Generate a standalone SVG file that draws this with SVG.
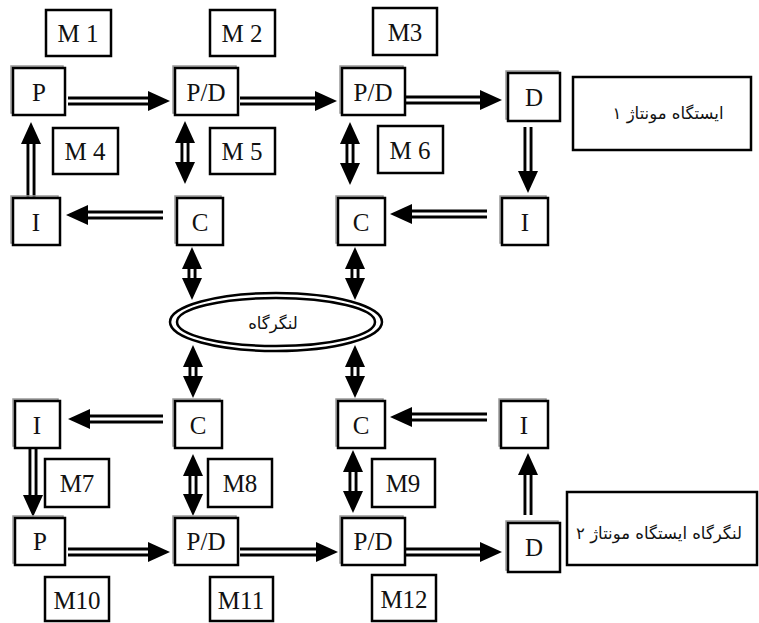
<svg xmlns="http://www.w3.org/2000/svg" width="759" height="623" viewBox="0 0 759 623">
<defs>
<style>
.b{fill:#fff;stroke:#000;stroke-width:2.5}
.s{fill:none;stroke:#999;stroke-width:1.5}
.t{font-family:'Liberation Serif','DejaVu Serif','Times New Roman',serif;font-size:25px;fill:#111;text-anchor:middle;dominant-baseline:central}
.fa{font-family:'DejaVu Sans','Noto Sans',sans-serif;font-size:16.5px;fill:#111;text-anchor:middle;dominant-baseline:central}
.so{fill:none;stroke:#000;stroke-width:9}
.si{fill:none;stroke:#fff;stroke-width:3.2}
.h{fill:#000}
.el{fill:#fff;stroke:#000;stroke-width:2.5}
</style>
</defs>
<rect width="759" height="623" fill="#fff"/>

<g id="connectors">
<path class="so" d="M68 101H150"/><path class="si" d="M68 101H151"/><polygon class="h" points="148,91 170,101 148,111"/>
<path class="so" d="M240 101H317"/><path class="si" d="M240 101H318"/><polygon class="h" points="315,91 337,101 315,111"/>
<path class="so" d="M406 100H482"/><path class="si" d="M406 100H483"/><polygon class="h" points="480,90 502,100 480,110"/>
<path class="so" d="M31 198V142"/><path class="si" d="M31 198V141"/><polygon class="h" points="21,144 31,122 41,144"/>
<path class="so" d="M185 141V164"/><path class="si" d="M185 140V165"/><polygon class="h" points="175,143 185,121 195,143"/><polygon class="h" points="175,162 185,184 195,162"/>
<path class="so" d="M350 142V165"/><path class="si" d="M350 141V166"/><polygon class="h" points="340,144 350,122 360,144"/><polygon class="h" points="340,163 350,185 360,163"/>
<path class="so" d="M528 127V173"/><path class="si" d="M528 127V174"/><polygon class="h" points="518,171 528,193 538,171"/>
<path class="so" d="M163 215H86"/><path class="si" d="M163 215H85"/><polygon class="h" points="88,205 66,215 88,225"/>
<path class="so" d="M487 214H410"/><path class="si" d="M487 214H409"/><polygon class="h" points="412,204 390,214 412,224"/>
<path class="so" d="M192 267V280"/><path class="si" d="M192 266V281"/><polygon class="h" points="182,269 192,247 202,269"/><polygon class="h" points="182,278 192,300 202,278"/>
<path class="so" d="M355 267V280"/><path class="si" d="M355 266V281"/><polygon class="h" points="345,269 355,247 365,269"/><polygon class="h" points="345,278 355,300 365,278"/>
<path class="so" d="M193 365V378"/><path class="si" d="M193 364V379"/><polygon class="h" points="183,367 193,345 203,367"/><polygon class="h" points="183,376 193,398 203,376"/>
<path class="so" d="M355 365V378"/><path class="si" d="M355 364V379"/><polygon class="h" points="345,367 355,345 365,367"/><polygon class="h" points="345,376 355,398 365,376"/>
<path class="so" d="M163 419H88"/><path class="si" d="M163 419H87"/><polygon class="h" points="90,409 68,419 90,429"/>
<path class="so" d="M487 417H410"/><path class="si" d="M487 417H409"/><polygon class="h" points="412,407 390,417 412,427"/>
<path class="so" d="M33 448V497"/><path class="si" d="M33 448V498"/><polygon class="h" points="23,495 33,517 43,495"/>
<path class="so" d="M193 474V496"/><path class="si" d="M193 473V497"/><polygon class="h" points="183,476 193,454 203,476"/><polygon class="h" points="183,494 193,516 203,494"/>
<path class="so" d="M353 470V493"/><path class="si" d="M353 469V494"/><polygon class="h" points="343,472 353,450 363,472"/><polygon class="h" points="343,491 353,513 363,491"/>
<path class="so" d="M528 515V473"/><path class="si" d="M528 515V472"/><polygon class="h" points="518,475 528,453 538,475"/>
<path class="so" d="M68 552H150"/><path class="si" d="M68 552H151"/><polygon class="h" points="148,542 170,552 148,562"/>
<path class="so" d="M240 552H318"/><path class="si" d="M240 552H319"/><polygon class="h" points="316,542 338,552 316,562"/>
<path class="so" d="M406 552H482"/><path class="si" d="M406 552H483"/><polygon class="h" points="480,542 502,552 480,562"/>
</g>

<g id="anchorage">
<ellipse class="el" cx="276" cy="322" rx="106" ry="29"/>
<ellipse class="el" cx="276" cy="322" rx="99" ry="24"/>
<text class="fa" x="273" y="323">لنگرگاه</text>
</g>

<g id="P1"><rect class="s" x="11" y="66" width="52" height="47"/><rect class="b" x="13" y="68" width="52" height="47"/><text class="t" x="39" y="92">P</text></g>
<g id="PD1"><rect class="s" x="173" y="66" width="63" height="47"/><rect class="b" x="175" y="68" width="63" height="47"/><text class="t" x="206" y="92">P/D</text></g>
<g id="PD2"><rect class="s" x="340" y="66" width="63" height="47"/><rect class="b" x="342" y="68" width="63" height="47"/><text class="t" x="373" y="92">P/D</text></g>
<g id="D1"><rect class="s" x="506" y="71" width="52" height="48"/><rect class="b" x="508" y="73" width="52" height="48"/><text class="t" x="534" y="97">D</text></g>

<g id="M1"><rect class="b" x="46" y="10" width="65" height="46"/><text class="t" x="78" y="33">M 1</text></g>
<g id="M2"><rect class="b" x="210" y="10" width="65" height="46"/><text class="t" x="242" y="33">M 2</text></g>
<g id="M3"><rect class="b" x="373" y="8" width="64" height="47"/><text class="t" x="405" y="32">M3</text></g>
<g id="M4"><rect class="b" x="53" y="128" width="65" height="46"/><text class="t" x="85" y="151">M 4</text></g>
<g id="M5"><rect class="b" x="210" y="128" width="65" height="46"/><text class="t" x="242" y="151">M 5</text></g>
<g id="M6"><rect class="b" x="378" y="126" width="65" height="47"/><text class="t" x="410" y="150">M 6</text></g>

<g id="station1"><rect class="b" x="573" y="77" width="178" height="73"/><text class="fa" x="668" y="113">ایستگاه مونتاژ ۱</text></g>

<g id="I1"><rect class="s" x="11" y="196" width="47" height="47"/><rect class="b" x="13" y="198" width="47" height="47"/><text class="t" x="36" y="222">I</text></g>
<g id="C1"><rect class="s" x="175" y="196" width="46" height="47"/><rect class="b" x="177" y="198" width="46" height="47"/><text class="t" x="200" y="222">C</text></g>
<g id="C2"><rect class="s" x="336" y="196" width="47" height="47"/><rect class="b" x="338" y="198" width="47" height="47"/><text class="t" x="361" y="222">C</text></g>
<g id="I2"><rect class="s" x="500" y="196" width="46" height="47"/><rect class="b" x="502" y="198" width="46" height="47"/><text class="t" x="525" y="222">I</text></g>

<g id="I3"><rect class="s" x="13" y="399" width="45" height="47"/><rect class="b" x="15" y="401" width="45" height="47"/><text class="t" x="37" y="425">I</text></g>
<g id="C3"><rect class="s" x="173" y="399" width="47" height="47"/><rect class="b" x="175" y="401" width="47" height="47"/><text class="t" x="198" y="425">C</text></g>
<g id="C4"><rect class="s" x="336" y="399" width="47" height="47"/><rect class="b" x="338" y="401" width="47" height="47"/><text class="t" x="361" y="425">C</text></g>
<g id="I4"><rect class="s" x="499" y="399" width="47" height="47"/><rect class="b" x="501" y="401" width="47" height="47"/><text class="t" x="524" y="425">I</text></g>

<g id="M7"><rect class="b" x="45" y="459" width="64" height="48"/><text class="t" x="77" y="483">M7</text></g>
<g id="M8"><rect class="b" x="208" y="459" width="64" height="48"/><text class="t" x="240" y="483">M8</text></g>
<g id="M9"><rect class="b" x="372" y="459" width="63" height="48"/><text class="t" x="403" y="483">M9</text></g>

<g id="P2"><rect class="s" x="13" y="516" width="50" height="47"/><rect class="b" x="15" y="518" width="50" height="47"/><text class="t" x="40" y="541">P</text></g>
<g id="PD3"><rect class="s" x="173" y="516" width="63" height="47"/><rect class="b" x="175" y="518" width="63" height="47"/><text class="t" x="206" y="541">P/D</text></g>
<g id="PD4"><rect class="s" x="340" y="516" width="63" height="47"/><rect class="b" x="342" y="518" width="63" height="47"/><text class="t" x="373" y="541">P/D</text></g>
<g id="D2"><rect class="s" x="506" y="521" width="52" height="49"/><rect class="b" x="508" y="523" width="52" height="49"/><text class="t" x="534" y="547">D</text></g>

<g id="station2"><rect class="b" x="567" y="492" width="190" height="73"/><text class="fa" x="659" y="533">لنگرگاه ایستگاه مونتاژ ۲</text></g>

<g id="M10"><rect class="b" x="45" y="577" width="64" height="44"/><text class="t" x="77" y="600">M10</text></g>
<g id="M11"><rect class="b" x="210" y="577" width="63" height="44"/><text class="t" x="241" y="600">M11</text></g>
<g id="M12"><rect class="b" x="372" y="575" width="64" height="46"/><text class="t" x="404" y="599">M12</text></g>
</svg>
